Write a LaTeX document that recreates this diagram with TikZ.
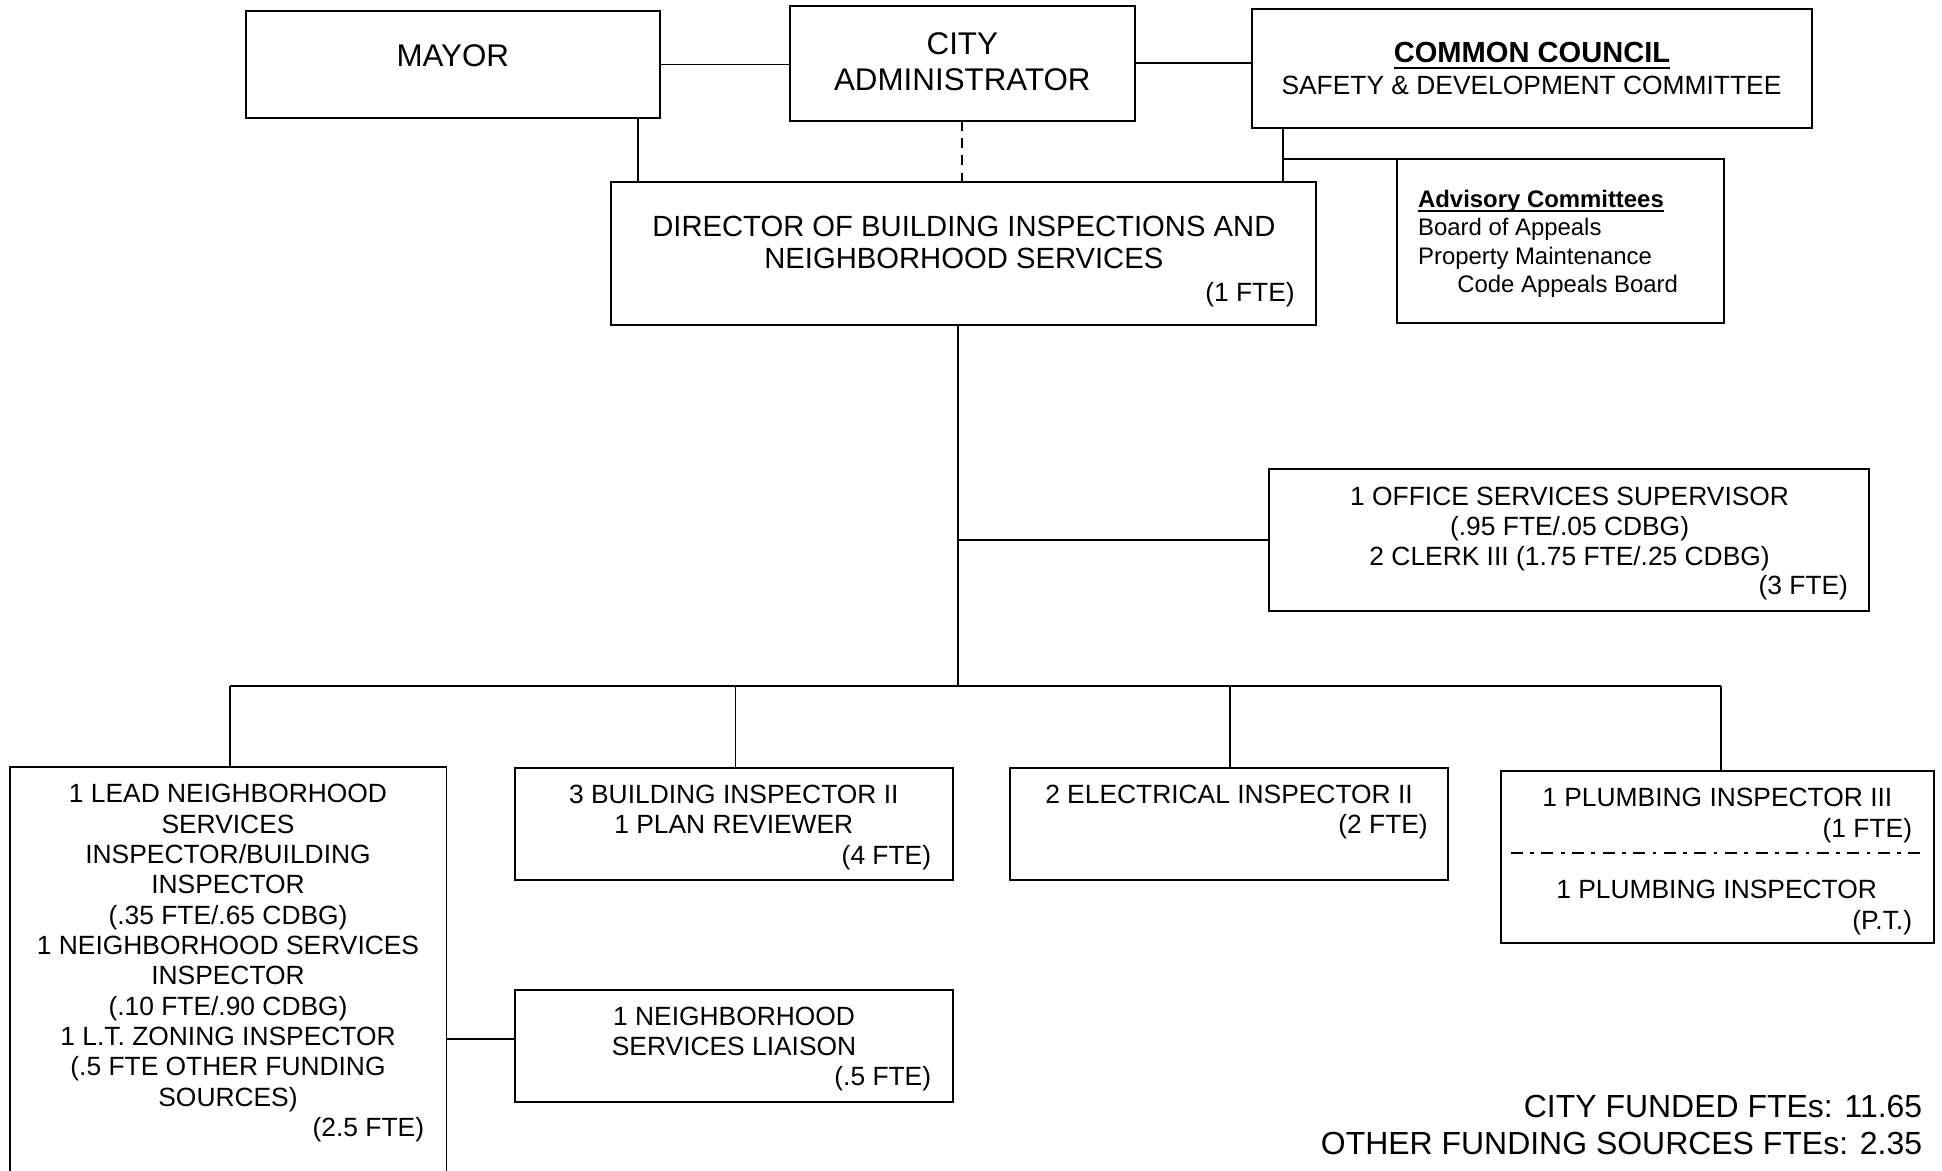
\documentclass[tikz,border=0pt]{standalone}
\usepackage{fontspec}
\setmainfont{Liberation Sans}
\begin{document}
\begin{tikzpicture}[x=1pt,y=-1pt,
  box/.style={draw, line width=1.6pt, inner sep=0pt, outer sep=0pt, anchor=north west},
  link/.style={line width=1.3pt},
  txt/.style={inner sep=0pt, outer sep=0pt, anchor=base, font=\fontsize{21.3}{25}\selectfont},
  txtr/.style={txt, anchor=base east},
  big/.style={font=\fontsize{25.3}{30}\selectfont},
  dirf/.style={font=\fontsize{23.6}{28}\selectfont},
  tot/.style={font=\fontsize{25.8}{30}\selectfont},
  adv/.style={inner sep=0pt, outer sep=0pt, anchor=base west, font=\fontsize{19.3}{23}\selectfont},
  advb/.style={adv, font=\bfseries\fontsize{19.3}{23}\selectfont},
  dashdot/.style={line width=1.8pt, dash pattern=on 9.7pt off 6pt on 3pt off 6pt}
]
\useasboundingbox (0,0) rectangle (1568,945);
\fill[white] (0,0) rectangle (1568,945);
\clip (0,0) rectangle (1568,945);

% ---------- boxes ----------
\node[box, minimum width=333.5pt, minimum height=86pt]   (mayor)    at (199,9) {};
\node[box, minimum width=279pt,   minimum height=92.8pt] (admin)    at (637.5,4.6) {};
\node[box, minimum width=452.3pt, minimum height=96.3pt] (council)  at (1010.7,7.3) {};
\node[box, minimum width=569.3pt, minimum height=115.7pt](director) at (493.4,146.7) {};
\node[box, minimum width=263.6pt, minimum height=131.9pt](advisory) at (1128.1,128.6) {};
\node[box, minimum width=485pt,   minimum height=114.2pt](office)   at (1024.2,378.9) {};
\node[box, minimum width=352.8pt, minimum height=341pt]  (boxA)     at (7.7,619) {};
\node[box, minimum width=354.2pt, minimum height=90.1pt] (boxB)     at (415.6,620.4) {};
\node[box, minimum width=353.6pt, minimum height=90.1pt] (boxC)     at (815.7,620.4) {};
\node[box, minimum width=349.7pt, minimum height=138.9pt](boxD)     at (1212,622.8) {};
\node[box, minimum width=354.2pt, minimum height=90.1pt] (boxE)     at (415.6,799.4) {};

% ---------- helper coordinates ----------
\coordinate (m1) at (515,0);
\coordinate (c1) at (1036,0);
\coordinate (tr) at (773.4,554);
\coordinate (bA) at (185.9,554);
\coordinate (bB) at (593.7,554);
\coordinate (bC) at (993.2,554);
\coordinate (bD) at (1389.5,554);
\coordinate (ae) at (0,838.9);
\coordinate (dl) at (1219.8,689);
\coordinate (dr) at (1550.6,689);

% ---------- connectors ----------
\draw[link] (mayor.east) -- (admin.west |- mayor.east);
\draw[link] (admin.east) -- (council.west |- admin.east);
\draw[link] (mayor.south -| m1) -- (director.north -| m1);
\draw[line width=1.5pt, dash pattern=on 8pt off 6pt] (admin.south) -- (director.north -| admin.south);
\draw[link] (council.south -| c1) -- (director.north -| c1);
\draw[link] (advisory.north west -| c1) -- (advisory.north west);
\draw[link] (director.south -| tr) -- (tr);
\draw[link] (office.west) -- (office.west -| tr);
\draw[link] (bA) -- (bD);
\draw[link] (bA) -- (boxA.north -| bA);
\draw[link] (bB) -- (boxB.north -| bB);
\draw[link] (bC) -- (boxC.north -| bC);
\draw[link] (bD) -- (boxD.north -| bD);
\draw[link] (boxA.east |- ae) -- (boxE.west |- ae);
\draw[dashdot] (dl) -- (dr);

% ---------- texts ----------
\node[txt, big] (tmayor) at (365.6,53.8) {MAYOR};
\node[txt, big] (tcity)  at (777,43.6) {CITY};
\node[txt, big] (tadm)   at (777,73.2) {ADMINISTRATOR};

\node[txt, font=\bfseries\fontsize{23.5}{28}\selectfont] (tcc) at (1237,50.6) {COMMON COUNCIL};
\draw[line width=1.8pt] ([yshift=-4pt]tcc.base west) -- ([yshift=-4pt]tcc.base east);
\node[txt] (tsafe) at (1236.5,75.9) {SAFETY \& DEVELOPMENT COMMITTEE};

\node[txt, dirf] (td1) at (778.2,190.6) {DIRECTOR OF BUILDING INSPECTIONS AND};
\node[txt, dirf] (td2) at (778.2,216.7) {NEIGHBORHOOD SERVICES};
\node[txtr] (td3) at (1045.4,243.6) {(1 FTE)};

\node[advb] (ta1) at (1145,167.4) {Advisory Committees};
\draw[line width=1.5pt] ([yshift=-3pt]ta1.base west) -- ([yshift=-3pt]ta1.base east);
\node[adv] (ta2) at (1145,190) {Board of Appeals};
\node[adv] (ta3) at (1145,213.2) {Property Maintenance};
\node[adv] (ta4) at (1176.7,235.8) {Code Appeals Board};

\node[txt] (to1) at (1267.3,407.8) {1 OFFICE SERVICES SUPERVISOR};
\node[txt] (to2) at (1267.3,432) {(.95 FTE/.05 CDBG)};
\node[txt] (to3) at (1267.3,456.2) {2 CLERK III (1.75 FTE/.25 CDBG)};
\node[txtr] (to4) at (1492.1,479.9) {(3 FTE)};

\node[txt] (tA1)  at (184.1,648.1) {1 LEAD NEIGHBORHOOD};
\node[txt] (tA2)  at (184.1,672.6) {SERVICES};
\node[txt] (tA3)  at (184.1,697.1) {INSPECTOR/BUILDING};
\node[txt] (tA4)  at (184.1,721.6) {INSPECTOR};
\node[txt] (tA5)  at (184.1,746.1) {(.35 FTE/.65 CDBG)};
\node[txt] (tA6)  at (184.1,770.6) {1 NEIGHBORHOOD SERVICES};
\node[txt] (tA7)  at (184.1,795.1) {INSPECTOR};
\node[txt] (tA8)  at (184.1,819.6) {(.10 FTE/.90 CDBG)};
\node[txt] (tA9)  at (184.1,844.1) {1 L.T. ZONING INSPECTOR};
\node[txt] (tA10) at (184.1,868.6) {(.5 FTE OTHER FUNDING};
\node[txt] (tA11) at (184.1,893.1) {SOURCES)};
\node[txtr] (tA12) at (342.4,917.6) {(2.5 FTE)};

\node[txt] (tB1) at (592.5,648.6) {3 BUILDING INSPECTOR II};
\node[txt] (tB2) at (592.5,673.1) {1 PLAN REVIEWER};
\node[txtr] (tB3) at (751.8,697.6) {(4 FTE)};

\node[txt] (tC1) at (992.3,648.6) {2 ELECTRICAL INSPECTOR II};
\node[txtr] (tC2) at (1152.8,673.1) {(2 FTE)};

\node[txt] (tD1) at (1386.6,651.3) {1 PLUMBING INSPECTOR III};
\node[txtr] (tD2) at (1543.8,676) {(1 FTE)};
\node[txt] (tD3) at (1386,725.3) {1 PLUMBING INSPECTOR};
\node[txtr] (tD4) at (1543.8,750.4) {(P.T.)};

\node[txt] (tE1) at (592.7,828.2) {1 NEIGHBORHOOD};
\node[txt] (tE2) at (592.7,852.4) {SERVICES LIAISON};
\node[txtr] (tE3) at (751.8,876.6) {(.5 FTE)};

\node[txtr, tot] (tt1) at (1552,902.4) {CITY FUNDED FTEs: 11.65};
\node[txtr, tot] (tt2) at (1552,932.1) {OTHER FUNDING SOURCES FTEs: 2.35};
\end{tikzpicture}
\end{document}
